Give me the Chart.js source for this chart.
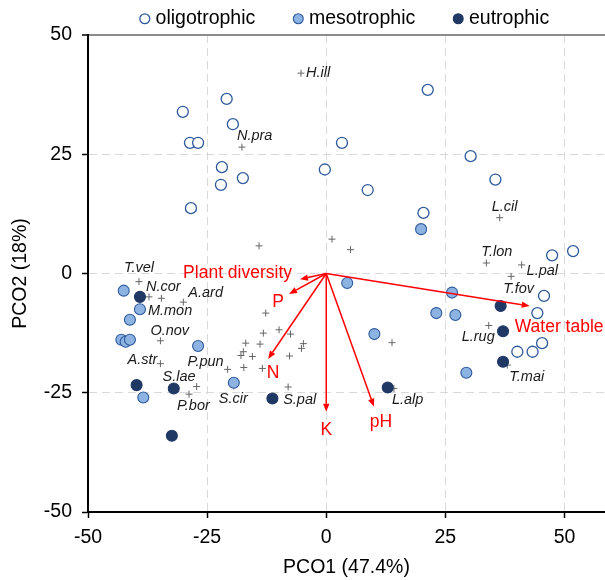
<!DOCTYPE html>
<html>
<head>
<meta charset="utf-8">
<script src="https://cdn.jsdelivr.net/npm/chart.js@4/dist/chart.umd.min.js"></script>
<style>
  html, body { margin: 0; padding: 0; background: #fff; }
  #wrap { width: 605px; height: 580px; }
</style>
</head>
<body>
<div id="wrap"><canvas id="c" width="605" height="580"></canvas></div>
<script>
// ---------- DATA ----------
const groupNames = ['oligotrophic', 'mesotrophic', 'eutrophic'];

const oligoX = [-30.1, -20.9, -19.6, -28.6, -26.9, -21.9, -17.5, -22.1, -28.4, -0.3, 3.3, 21.3, 8.7, 30.3, 20.4, 35.5, 47.4, 51.8, 45.7, 44.3, 45.3, 43.3, 40.1];
const oligoY = [33.9, 36.6, 31.3, 27.4, 27.4, 22.3, 20.0, 18.6, 13.7, 21.8, 27.4, 38.5, 17.5, 24.6, 12.7, 19.7, 3.8, 4.7, -4.7, -8.3, -14.6, -16.4, -16.4];

const mesoX = [19.9, 4.4, 26.4, 23.1, 27.1, 10.1, 29.4, -42.5, -39.1, -41.2, -43.0, -42.1, -41.2, -26.9, -38.4, -19.4];
const mesoY = [9.3, -2.0, -4.0, -8.3, -8.7, -12.7, -20.8, -3.6, -7.5, -9.7, -13.9, -14.3, -13.9, -15.2, -26.0, -22.9];

const eutroX = [-39.1, -39.8, -32.0, -32.4, -11.3, 36.6, 37.1, 37.1, 12.9];
const eutroY = [-4.9, -23.4, -24.1, -34.0, -26.2, -6.8, -12.1, -18.5, -23.9];

const speciesNames = ['H.ill', 'N.pra', 'L.cil', 'T.lon', 'L.pal', 'T.fov', 'L.rug', 'T.mai', 'L.alp',
  'T.vel', 'N.cor', 'A.ard', 'M.mon', 'O.nov', 'A.str', 'S.lae', 'P.bor', 'P.pun', 'S.cir', 'S.pal',
  '', '', '', '', '', '', '', '', '', '', '', '', '', '', '', '', '', '', ''];
const speciesX = [-5.3, -17.7, 36.4, 33.6, 41.0, 38.8, 34.1, 38.0, 14.2,
  -39.3, -37.2, -30.0, -39.1, -34.8, -34.8, -27.2, -28.8, -20.7, -19.4, -8.0,
  -14.1, 1.2, 5.1, 13.8, -4.8, -5.2, -34.6, -17.3, -13.4, -12.7, -13.2, -9.9, -7.5, -16.9, -13.9, -17.4, -17.9, -15.5, -7.7];
const speciesY = [42.0, 26.5, 11.7, 2.2, 1.8, -0.6, -10.9, -19.2, -24.1,
  -1.7, -4.9, -6.0, -7.5, -14.1, -18.9, -23.7, -25.3, -20.1, -23.6, -23.8,
  5.8, 7.2, 5.0, -14.5, -14.7, -15.7, -5.2, -19.7, -19.9, -8.3, -12.5, -11.8, -12.7, -14.6, -14.8, -16.4, -17.2, -17.4, -17.3];

const vectorNames = ['Plant diversity', 'P', 'N', 'K', 'pH', 'Water table'];
const vectorX = [-5.5, -7.8, -12.2, 0.0, 10.0, 42.7];
const vectorY = [-1.2, -4.3, -17.9, -29.0, -27.9, -6.8];

const tickValues = [-50, -25, 0, 25, 50];
const xTitle = 'PCO1 (47.4%)';
const yTitle = 'PCO2 (18%)';

// ---------- STYLES / PLACEMENT ----------
const FONT = 'Arial, "Liberation Sans", sans-serif';
const toPts = (xs, ys) => xs.map((v, i) => ({ x: v, y: ys[i] }));

// label placement relative to marker: [align, dx px, dy px]
const speciesLabelPlace = {
  'H.ill': ['left', 5, 0], 'N.pra': ['left', -5, -11], 'L.cil': ['left', -8, -11],
  'T.lon': ['left', -5, -11], 'L.pal': ['left', 5, 6], 'T.fov': ['left', -8, 13],
  'L.rug': ['right', 6, 11], 'T.mai': ['left', 2, 12], 'L.alp': ['left', -2, 12],
  'T.vel': ['left', -15, -14], 'N.cor': ['left', -3, -10], 'A.ard': ['left', 5, -9],
  'M.mon': ['left', 8, 2], 'O.nov': ['left', -10, -10], 'A.str': ['right', -3, -4],
  'S.lae': ['right', -1, -10], 'P.bor': ['left', -12, 12], 'P.pun': ['right', -4, -7],
  'S.cir': ['left', -15, 13], 'S.pal': ['left', -5, 13]
};
const vectorLabelPlace = {
  'Plant diversity': ['right', -8, -6], 'P': ['center', -11, 8], 'N': ['center', 5, 14],
  'K': ['center', 0, 18], 'pH': ['center', 7, 16], 'Water table': ['left', -15, 21]
};

const overlayPlugin = {
  id: 'overlay',
  afterDatasetsDraw(chart) {
    const { ctx, scales: { x, y } } = chart;
    ctx.save();
    // species labels
    ctx.font = 'italic 14.5px ' + FONT;
    ctx.fillStyle = '#1a1a1a';
    ctx.textBaseline = 'middle';
    speciesNames.forEach((name, i) => {
      const p = speciesLabelPlace[name];
      if (!name || !p) return;
      ctx.textAlign = p[0];
      ctx.fillText(name, x.getPixelForValue(speciesX[i]) + p[1], y.getPixelForValue(speciesY[i]) + p[2]);
    });
    // vectors
    const ox = x.getPixelForValue(0), oy = y.getPixelForValue(0);
    ctx.strokeStyle = '#ff0000';
    ctx.fillStyle = '#ff0000';
    ctx.lineWidth = 1.5;
    vectorNames.forEach((name, i) => {
      const tx = x.getPixelForValue(vectorX[i]);
      const ty = y.getPixelForValue(vectorY[i]);
      const ang = Math.atan2(ty - oy, tx - ox);
      const hl = 8, hw = 3.2;
      const bx = tx - hl * Math.cos(ang), by = ty - hl * Math.sin(ang);
      ctx.beginPath();
      ctx.moveTo(ox, oy);
      ctx.lineTo(bx, by);
      ctx.stroke();
      ctx.beginPath();
      ctx.moveTo(tx, ty);
      ctx.lineTo(bx + hw * Math.sin(ang), by - hw * Math.cos(ang));
      ctx.lineTo(bx - hw * Math.sin(ang), by + hw * Math.cos(ang));
      ctx.closePath();
      ctx.fill();
    });
    ctx.font = '17.5px ' + FONT;
    ctx.textBaseline = 'middle';
    vectorNames.forEach((name, i) => {
      const p = vectorLabelPlace[name];
      ctx.textAlign = p[0];
      ctx.fillText(name, x.getPixelForValue(vectorX[i]) + p[1], y.getPixelForValue(vectorY[i]) + p[2]);
    });
    ctx.restore();
  }
};

const setTicks = (scale) => { scale.ticks = tickValues.map(v => ({ value: v })); };

const gridColor = (edgeVal, topVal) => (c) => {
  const v = c.tick && c.tick.value;
  if (v === edgeVal) return 'rgba(0,0,0,0)';
  if (topVal !== undefined && v === topVal) return '#8c8c8c';
  return '#d9d9d9';
};

new Chart(document.getElementById('c'), {
  type: 'scatter',
  data: {
    datasets: [
      {
        label: groupNames[0], data: toPts(oligoX, oligoY),
        backgroundColor: '#ffffff', borderColor: '#2e5a9c', borderWidth: 1.3,
        pointRadius: 5.5, pointHoverRadius: 5.5, order: 1
      },
      {
        label: groupNames[1], data: toPts(mesoX, mesoY),
        backgroundColor: '#8db3e2', borderColor: '#2e5a9c', borderWidth: 1.1,
        pointRadius: 5.5, pointHoverRadius: 5.5, order: 2
      },
      {
        label: groupNames[2], data: toPts(eutroX, eutroY),
        backgroundColor: '#1f3864', borderColor: '#1f3864', borderWidth: 1.1,
        pointRadius: 5.5, pointHoverRadius: 5.5, order: 3
      },
      {
        label: 'species', data: toPts(speciesX, speciesY),
        pointStyle: 'cross', pointRadius: 3.5, pointHoverRadius: 3.5,
        borderColor: '#666666', backgroundColor: '#666666', borderWidth: 1, order: 10
      }
    ]
  },
  options: {
    responsive: false,
    animation: false,
    events: [],
    layout: { autoPadding: false, padding: { top: -33, left: 0, right: 0, bottom: 0 } },
    plugins: {
      tooltip: { enabled: false },
      legend: {
        position: 'top',
        fullSize: false,
        maxHeight: 68,
        labels: {
          usePointStyle: true,
          boxWidth: 2,
          boxHeight: 7,
          padding: 42,
          color: '#000',
          font: { family: FONT, size: 19.5 },
          filter: (item) => item.datasetIndex < 3
        }
      }
    },
    scales: {
      x: {
        type: 'linear', min: -50, max: 58.5,
        afterBuildTicks: setTicks,
        afterFit: (s) => { s.height = 68; s.paddingRight = 0; s.paddingLeft = 0; },
        ticks: { color: '#000', padding: 8, font: { family: FONT, size: 19.5 } },
        grid: {
          color: gridColor(-50), lineWidth: 1,
          drawTicks: true, tickLength: 6, tickColor: '#000', tickWidth: 1.5
        },
        border: { display: true, color: '#000', width: 2, dash: [8, 5] },
        title: { display: true, text: xTitle, color: '#000', font: { family: FONT, size: 19.5 }, padding: { top: 4, bottom: 1 } }
      },
      y: {
        type: 'linear', min: -50, max: 50,
        afterBuildTicks: setTicks,
        afterFit: (s) => { s.width = 88; s.paddingTop = 0; s.paddingBottom = 0; },
        ticks: { color: '#000', padding: 10, font: { family: FONT, size: 19.5 } },
        grid: {
          color: gridColor(-50, 50),
          lineWidth: (c) => (c.tick && c.tick.value === 50 ? 2 : 1),
          drawTicks: true, tickLength: 6, tickColor: '#000', tickWidth: 1.5
        },
        border: {
          display: true, color: '#000', width: 2,
          dash: (c) => (c.tick && c.tick.value === 50 ? [] : [8, 5])
        },
        title: { display: true, text: yTitle, color: '#000', font: { family: FONT, size: 19.5 }, padding: { top: 9, bottom: 2 } }
      }
    }
  },
  plugins: [overlayPlugin]
});
</script>
</body>
</html>
